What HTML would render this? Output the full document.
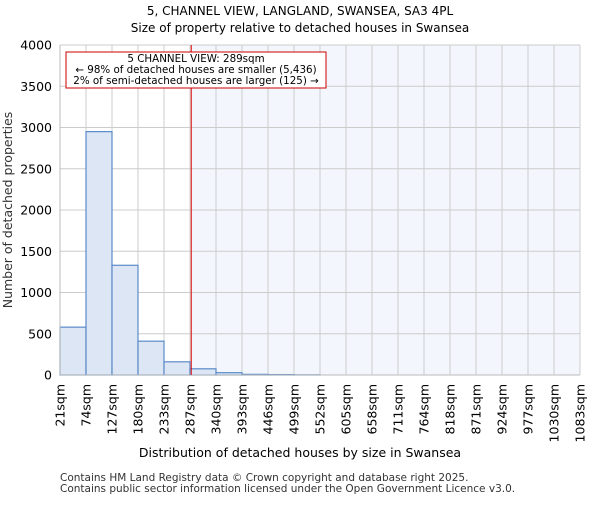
<!DOCTYPE html>
<html><head><meta charset="utf-8"><style>
body{margin:0;background:#fff}
svg{font-family:"DejaVu Sans","Liberation Sans",sans-serif}
</style></head><body>
<svg id="c" width="600" height="500" viewBox="0 0 600 500">
<text x="300" y="15" text-anchor="middle" font-size="12">5, CHANNEL VIEW, LANGLAND, SWANSEA, SA3 4PL</text>
<text x="300" y="32" text-anchor="middle" font-size="12">Size of property relative to detached houses in Swansea</text>
<g id="plot"></g>
<text x="300" y="457" text-anchor="middle" font-size="12.5">Distribution of detached houses by size in Swansea</text>
<text x="12" y="210" text-anchor="middle" font-size="12.5" transform="rotate(-90 12 210)" fill="#333">Number of detached properties</text>
<text x="60" y="481" font-size="10.5" fill="#333">Contains HM Land Registry data © Crown copyright and database right 2025.</text>
<text x="60" y="492" font-size="10.5" fill="#333">Contains public sector information licensed under the Open Government Licence v3.0.</text>
</svg>
<script>
const categories=["21sqm","74sqm","127sqm","180sqm","233sqm","287sqm","340sqm","393sqm","446sqm","499sqm","552sqm","605sqm","658sqm","711sqm","764sqm","818sqm","871sqm","924sqm","977sqm","1030sqm","1083sqm"];
const counts=[580,2950,1330,410,160,75,28,8,5,2,0,0,0,0,0,0,0,0,0,0];
const yTicks=[0,500,1000,1500,2000,2500,3000,3500,4000];
const binStart=21, binStep=53.1, propertySize=289;
const X0=60,X1=580,Y0=375,Y1=45,yMax=4000;
const ns="http://www.w3.org/2000/svg";
const g=document.getElementById('plot');
const bw=(X1-X0)/counts.length;
const xv=v=>X0+(v-binStart)/binStep*bw;
const y=v=>Y0-(v/yMax)*(Y0-Y1);
function mk(t,a,p){const e=document.createElementNS(ns,t);for(const k in a)e.setAttribute(k,a[k]);(p||g).appendChild(e);return e;}
const px=xv(propertySize);
let e=mk('rect',{x:px,y:Y1,width:X1-px,height:Y0-Y1,fill:'#f3f6fd'});


for(let i=0;i<=categories.length-1;i++){const x=X0+i*bw;e=mk('line',{x1:x,x2:x,y1:Y1,y2:Y0,stroke:'#ccc','stroke-width':1});

}
yTicks.forEach(t=>{e=mk('line',{x1:X0,x2:X1,y1:y(t),y2:y(t),stroke:'#ccc','stroke-width':1});


e=mk('text',{x:X0-8,y:y(t)+4.5,'text-anchor':'end','font-size':12.5});e.textContent=t;

});
counts.forEach((c,i)=>{const x=X0+i*bw;e=mk('rect',{x:x,y:y(c),width:bw,height:Y0-y(c),fill:'#dce6f4',stroke:'#5b8ac9','stroke-width':1.2});

});
categories.forEach((c,i)=>{const x=X0+i*bw;e=mk('text',{x:x+4.5,y:Y0+9,'text-anchor':'end','font-size':12.5,transform:`rotate(-90 ${x+4.5} ${Y0+9})`});e.textContent=c;

});
e=mk('line',{x1:X0,x2:X0,y1:Y1,y2:Y0,stroke:'#bbb'});


e=mk('line',{x1:X0,x2:X1,y1:Y0,y2:Y0,stroke:'#bbb'});


e=mk('line',{x1:px,x2:px,y1:Y1,y2:Y0,stroke:'#dd0000','stroke-width':1});


e=mk('rect',{x:66,y:52,width:260,height:36,fill:'#fff',stroke:'#cc0000','stroke-width':1});


[["5 CHANNEL VIEW: 289sqm",62],["← 98% of detached houses are smaller (5,436)",73],["2% of semi-detached houses are larger (125) →",84]].forEach(([t,yy])=>{e=mk('text',{x:196,y:yy,'text-anchor':'middle','font-size':10.3});e.textContent=t;

});
</script>
</body></html>
